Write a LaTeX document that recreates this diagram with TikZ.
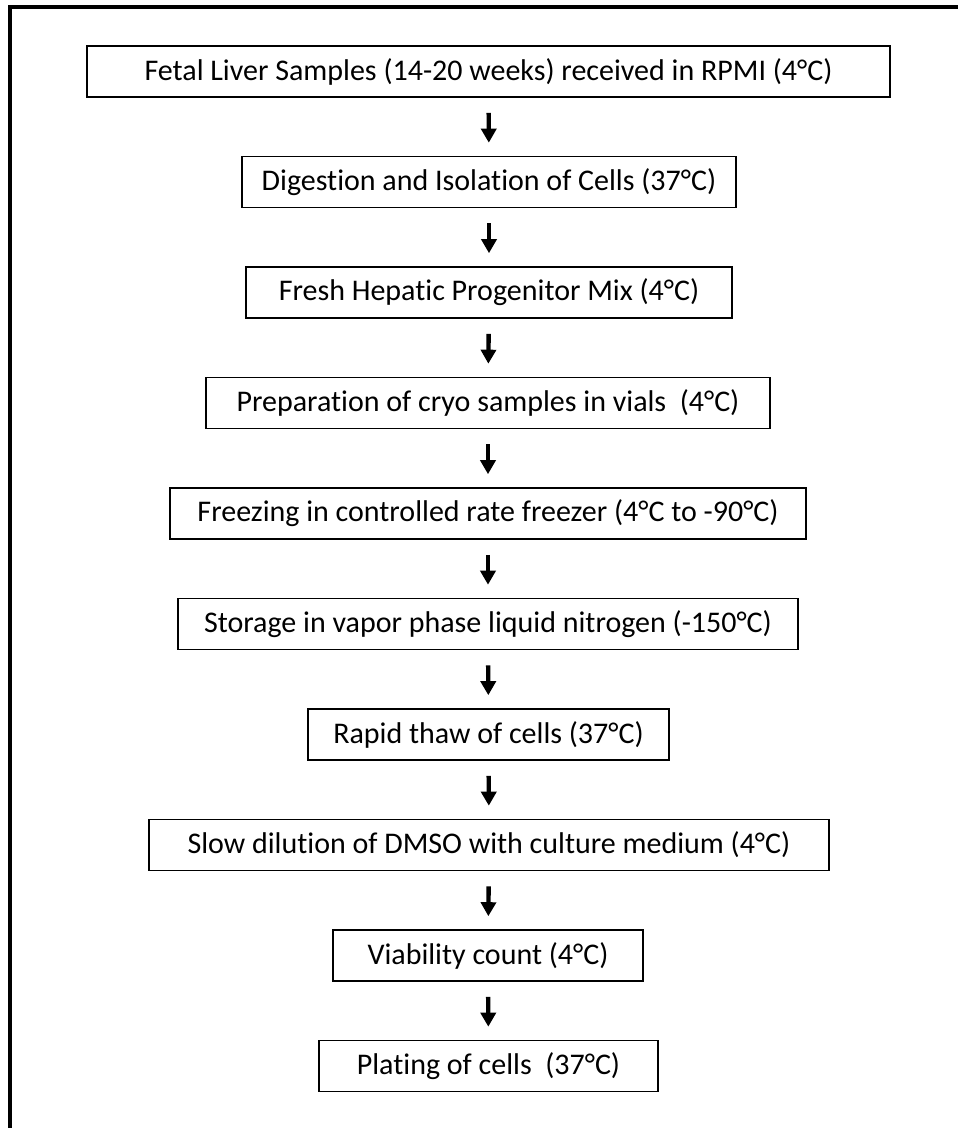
\documentclass[tikz,border=0pt]{standalone}
\usepackage{fontspec}
\setmainfont{Carlito}[Ligatures=NoCommon]
\usetikzlibrary{arrows.meta}
\tikzset{>={Triangle[width=11.25pt,length=10.5pt]}}
\tikzset{stepbox/.style={draw, line width=1.2pt, minimum height=38.25pt, inner sep=0pt, font=\fontsize{22.5}{26}\selectfont}}
\tikzset{flow/.style={->, line width=3.3pt, shorten <=11.25pt, shorten >=9.75pt}}

\begin{document}
\begin{tikzpicture}[x=0.75pt,y=-0.75pt]
	\useasboundingbox (0,0) rectangle (958,1128);

	% frame, only top and left edge show
	\draw[line width=3pt] (10,1128) -- (10,7) -- (958,7);

	\node[stepbox, minimum width=602.25pt] (fl) at(488.5,71.5){Fetal Liver Samples (14-20 weeks) received in RPMI (4°C)};
	\node[stepbox, minimum width=370.5pt] (dig) at(489,182){Digestion and Isolation of Cells (37°C)};
	\node[stepbox, minimum width=364.5pt] (mix) at(489,292.5){Fresh Hepatic Progenitor Mix (4°C)};
	\node[stepbox, minimum width=423pt] (prep) at(488,403){Preparation of cryo samples in vials\ \ (4°C)};
	\node[stepbox, minimum width=477pt] (frz) at(488,513.5){Freezing in controlled rate freezer (4°C to -90°C)};
	\node[stepbox, minimum width=465pt] (stor) at(488,624){Storage in vapor phase liquid nitrogen (-150°C)};
	\node[stepbox, minimum width=270.75pt] (thaw) at(488.5,734.5){Rapid thaw of cells (37°C)};
	\node[stepbox, minimum width=510pt] (dil) at(489,845){Slow dilution of DMSO with culture medium (4°C)};
	\node[stepbox, minimum width=232.5pt] (via) at(488,955.5){Viability count (4°C)};
	\node[stepbox, minimum width=254.25pt] (plat) at(488.5,1066){Plating of cells\ \ (37°C)};

	\draw[flow] (fl) -- (dig);
	\draw[flow] (dig) -- (mix);
	\draw[flow] (mix) -- (prep);
	\draw[flow] (prep) -- (frz);
	\draw[flow] (frz) -- (stor);
	\draw[flow] (stor) -- (thaw);
	\draw[flow] (thaw) -- (dil);
	\draw[flow] (dil) -- (via);
	\draw[flow] (via) -- (plat);
\end{tikzpicture}
\end{document}
